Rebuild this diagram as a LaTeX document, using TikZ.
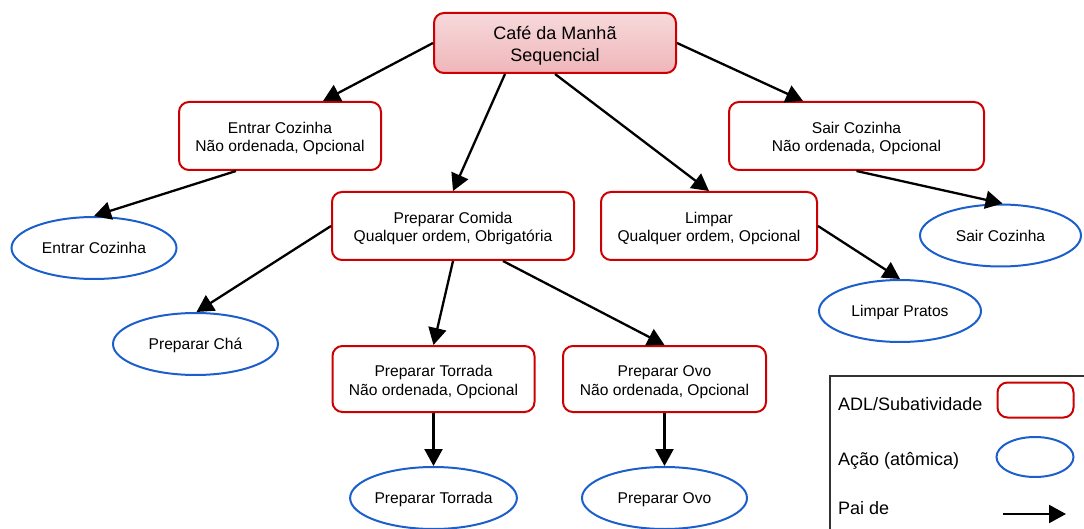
\documentclass[tikz,border=0pt]{standalone}
\usepackage{fontspec}
\setmainfont{Liberation Sans}
\usetikzlibrary{shapes.geometric,arrows.meta}

\definecolor{adlred}{HTML}{CC0000}
\definecolor{acaoblue}{HTML}{1C5FCC}
\definecolor{roottop}{HTML}{F7D9DB}
\definecolor{rootbottom}{HTML}{EFB6BA}
\definecolor{legendframe}{HTML}{333333}

\tikzset{
  txt/.style={font=\fontsize{15.6}{18.3}\selectfont, align=center},
  adl/.style={txt, draw=adlred, line width=2pt, rounded corners=10pt,
              minimum height=68pt, inner sep=0pt,
              text height=32pt, text depth=0pt},
  acao/.style={txt, ellipse, draw=acaoblue, line width=2pt,
               minimum width=165pt, minimum height=62pt, inner sep=0pt,
               text height=11.8pt, text depth=0pt},
  pai/.style={-{Triangle[length=17pt,width=18pt]}, line width=2.3pt, black},
  legtext/.style={font=\fontsize{18}{21}\selectfont, anchor=west, inner sep=0pt,
                  text height=12.9pt, text depth=0pt},
}

\begin{document}
\begin{tikzpicture}[x=1pt,y=-1pt]
  \useasboundingbox (0,0) rectangle (1084,529);
  \clip (0,0) rectangle (1084,529);

  % activity tree
  \node[adl, minimum width=242pt, minimum height=60pt,
        top color=roottop, bottom color=rootbottom,
        font=\fontsize{18}{21.7}\selectfont,
        text height=37.4pt, text depth=0pt] (root) at (555,43)
        {Café da Manhã\\Sequencial};

  \node[adl, minimum width=202pt] (entrar) at (280,136) {Entrar Cozinha\\Não ordenada, Opcional};
  \node[adl, minimum width=255pt] (sair) at (856.5,136) {Sair Cozinha\\Não ordenada, Opcional};
  \node[adl, minimum width=242pt] (comida) at (453,226) {Preparar Comida\\Qualquer ordem, Obrigatória};
  \node[adl, minimum width=216pt] (limpar) at (709,226) {Limpar\\Qualquer ordem, Opcional};
  \node[adl, minimum width=202pt, minimum height=66pt] (torrada) at (433.5,379) {Preparar Torrada\\Não ordenada, Opcional};
  \node[adl, minimum width=203pt, minimum height=66pt] (ovo) at (664.5,379) {Preparar Ovo\\Não ordenada, Opcional};

  % atomic actions
  \node[acao] (entrarA) at (94,248) {Entrar Cozinha};
  \node[acao] (cha) at (195.5,344) {Preparar Chá};
  \node[acao] (torradaA) at (433.5,498) {Preparar Torrada};
  \node[acao] (ovoA) at (664.5,498) {Preparar Ovo};
  \node[acao, minimum width=162pt] (pratos) at (900,311) {Limpar Pratos};
  \node[acao, minimum width=161pt] (sairA) at (1000.5,235.5) {Sair Cozinha};

  % parent-of connectors
  \draw[pai] (root.west) -- ([xshift=43pt]entrar.north);
  \draw[pai] ([xshift=-50pt]root.south) -- (comida.north);
  \draw[pai] (root.south) -- (limpar.north);
  \draw[pai] (root.east) -- ([xshift=-53.5pt]sair.north);
  \draw[pai] ([xshift=-44pt]entrar.south) -- (entrarA.north);
  \draw[pai] (sair.south) -- ([xshift=2pt]sairA.north);
  \draw[pai] (limpar.east) -- (pratos.north);
  \draw[pai] (comida.west) -- ([xshift=1pt]cha.north);
  \draw[pai] (comida.south) -- (torrada.north);
  \draw[pai] ([xshift=50pt]comida.south) -- (ovo.north);
  \draw[pai] (torrada.south) -- (torradaA.north);
  \draw[pai] (ovo.south) -- (ovoA.north);

  % legend
  \draw[legendframe, line width=2pt] (1100,376) -| (830,545);
  \node[legtext] (l1) at (838,404) {ADL/Subatividade};
  \node[legtext] (l2) at (838,459.3) {Ação (atômica)};
  \node[legtext] (l3) at (838,508.3) {Pai de};
  \node[adl, minimum width=76pt, minimum height=35pt, text height=0pt] (legAdl) at (1035.5,400) {};
  \node[acao, minimum width=77pt, minimum height=40pt] (legAcao) at (1035,457) {};
  \coordinate (legFrom) at (1003,514);
  \coordinate (legTo) at (1066,514);
  \draw[pai] (legFrom) -- (legTo);
\end{tikzpicture}
\end{document}
